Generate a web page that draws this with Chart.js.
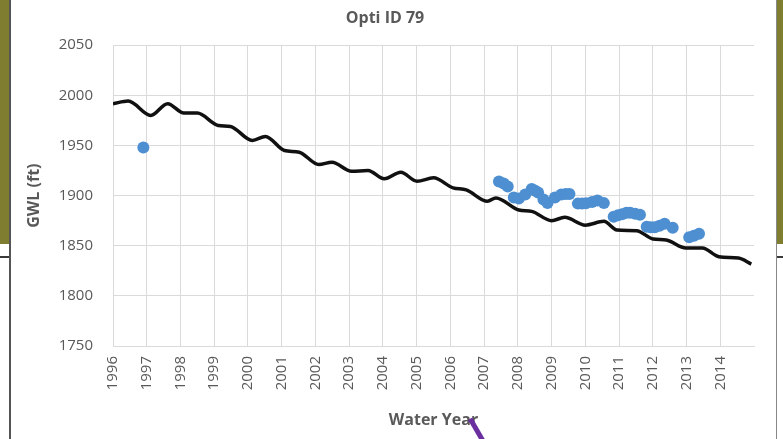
<!DOCTYPE html>
<html>
<head>
<meta charset="utf-8">
<script src="https://cdn.jsdelivr.net/npm/chart.js@4.4.1/dist/chart.umd.min.js"></script>
<style>
  html, body { margin: 0; padding: 0; width: 783px; height: 439px; overflow: hidden; background: #ffffff; }
  #wrap { position: absolute; left: 10px; top: 0; width: 750px; height: 439px; }
  .olive { position: absolute; background: #7f7e30; }
  .dark { position: absolute; background: #3a3a3a; }
  #arrow { position: absolute; left: 468px; top: 420px; width: 5px; height: 26px; background: #6b2fa0; transform: rotate(-30deg); transform-origin: top left; }
</style>
</head>
<body>
<div class="olive" style="left:0;top:0;width:9px;height:244px;"></div>
<div class="olive" style="left:777px;top:0;width:6px;height:244px;"></div>
<div class="dark" style="left:0;top:256px;width:9px;height:2px;"></div>
<div class="dark" style="left:9px;top:0;width:2px;height:439px;background:#555;"></div>
<div class="dark" style="left:777px;top:256px;width:6px;height:2px;"></div>
<div class="dark" style="left:776px;top:0;width:1px;height:439px;background:#888;"></div>
<div id="wrap"><canvas id="c" width="750" height="439"></canvas></div>
<div id="arrow"></div>
<script>
// ---- data ----
const chartTitle = "Opti ID 79";
const xTitle = "Water Year";
const yTitle = "GWL (ft)";

const yearTicks = [1996,1997,1998,1999,2000,2001,2002,2003,2004,2005,2006,2007,2008,2009,2010,2011,2012,2013,2014];

// simulated groundwater level (black line)
const lineYears = [1996.0,1996.45,1997.12,1997.62,1998.1,1998.5,1999.12,1999.48,2000.13,2000.52,2001.08,2001.52,2002.1,2002.49,2003.07,2003.56,2004.04,2004.53,2005.01,2005.5,2006.08,2006.47,2007.1,2007.35,2008.03,2008.41,2009.0,2009.39,2010.0,2010.55,2010.94,2011.52,2012.01,2012.4,2012.98,2013.47,2013.96,2014.54,2014.92];
const lineGwl   = [1991.7,1994.3,1980.0,1991.7,1982.3,1982.3,1970.0,1969.0,1955.0,1959.0,1945.0,1943.3,1931.0,1933.3,1924.3,1925.0,1916.7,1923.3,1914.3,1917.7,1907.7,1905.7,1894.3,1897.7,1885.7,1884.3,1875.0,1878.3,1870.5,1874.3,1865.7,1865.0,1856.7,1855.7,1847.7,1847.7,1839.0,1837.7,1831.7];

// observed groundwater level (blue dots)
const dotYears = [1996.9,2007.44,2007.58,2007.7,2007.88,2008.03,2008.22,2008.41,2008.5,2008.6,2008.76,2008.88,2009.1,2009.29,2009.42,2009.53,2009.78,2009.9,2010.02,2010.2,2010.36,2010.55,2010.84,2010.97,2011.09,2011.22,2011.33,2011.48,2011.62,2011.82,2011.94,2012.06,2012.2,2012.35,2012.59,2013.08,2013.22,2013.37];
const dotGwl   = [1948.0,1914.0,1912.0,1909.0,1898.0,1897.0,1901.0,1906.5,1905.0,1903.0,1896.0,1892.5,1898.0,1901.0,1901.5,1901.5,1892.0,1892.0,1892.3,1893.5,1895.0,1892.5,1879.0,1880.5,1881.5,1883.0,1883.0,1882.0,1881.0,1869.0,1868.5,1868.5,1870.0,1872.0,1868.0,1858.5,1860.0,1862.0];

const yMin = 1750, yMax = 2050, yStep = 50;
const xMin = 1996, xMax = 2015;

// ---- chart ----
const textColor = '#595959';
const gridColor = '#dadada';
const fontFamily = '"Open Sans", "DejaVu Sans", sans-serif';

new Chart(document.getElementById('c'), {
  type: 'scatter',
  data: {
    datasets: [
      {
        label: 'Observed',
        data: dotYears.map((x, i) => ({x, y: dotGwl[i]})),
        showLine: false,
        pointRadius: 6,
        pointHoverRadius: 6,
        pointBackgroundColor: '#4d8fd1',
        pointBorderColor: '#4d8fd1',
        pointBorderWidth: 0,
        order: 0
      },
      {
        label: 'Simulated',
        data: lineYears.map((x, i) => ({x, y: lineGwl[i]})),
        showLine: true,
        borderColor: '#111111',
        borderWidth: 3.5,
        pointRadius: 0,
        tension: 0.4,
        cubicInterpolationMode: 'monotone',
        fill: false,
        order: 1
      }
    ]
  },
  options: {
    responsive: false,
    animation: false,
    devicePixelRatio: 1,
    layout: { padding: 0 },
    plugins: {
      legend: { display: false },
      tooltip: { enabled: false },
      title: {
        display: true,
        text: chartTitle,
        color: textColor,
        font: { family: fontFamily, size: 16, weight: 'bold' },
        padding: { top: 9, bottom: 17 }
      }
    },
    scales: {
      x: {
        type: 'linear',
        min: xMin,
        max: xMax,
        afterBuildTicks: (scale) => {
          scale.ticks = yearTicks.map(v => ({ value: v }));
        },
        afterFit: (scale) => { scale.height = 93; },
        ticks: {
          autoSkip: false,
          minRotation: 90,
          maxRotation: 90,
          padding: 10,
          color: textColor,
          font: { family: fontFamily, size: 15 },
          callback: (v) => String(v)
        },
        grid: { color: gridColor, lineWidth: 1, drawTicks: false },
        border: { color: gridColor, width: 1 },
        title: {
          display: true,
          text: xTitle,
          color: textColor,
          font: { family: fontFamily, size: 16, weight: 'bold' },
          padding: { top: 0, bottom: 9 }
        }
      },
      y: {
        type: 'linear',
        min: yMin,
        max: yMax,
        afterFit: (scale) => { scale.width = 103; },
        ticks: {
          stepSize: yStep,
          padding: 20,
          color: textColor,
          font: { family: fontFamily, size: 15 },
          callback: (v) => String(v)
        },
        grid: { color: gridColor, lineWidth: 1, drawTicks: false },
        border: { color: gridColor, width: 1 },
        title: {
          display: true,
          text: yTitle,
          color: textColor,
          font: { family: fontFamily, size: 16, weight: 'bold' },
          padding: { top: 15, bottom: 0 }
        }
      }
    }
  }
});
</script>
</body>
</html>
